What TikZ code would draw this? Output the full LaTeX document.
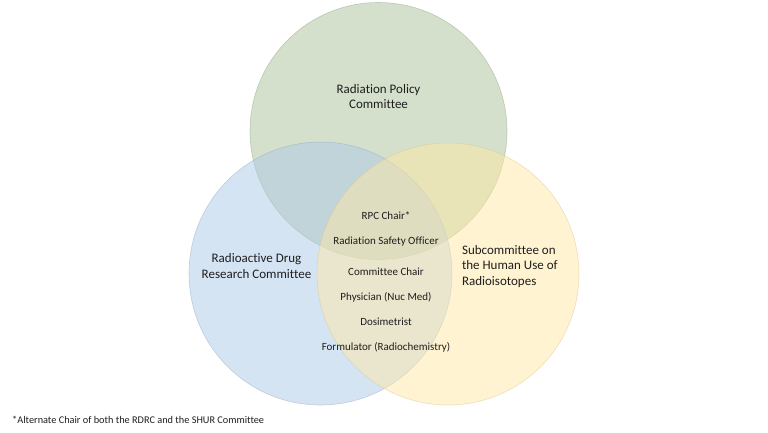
\documentclass[tikz,border=0pt]{standalone}
\usepackage{fontspec}
\setmainfont{Carlito}[Ligatures=NoCommon]
\definecolor{rpcgreen}{RGB}{170,194,152}
\definecolor{rdrcblue}{RGB}{172,201,232}
\definecolor{shuryellow}{RGB}{255,231,166}
\definecolor{txtgrey}{RGB}{30,30,30}
\begin{document}
\begin{tikzpicture}[x=1pt, y=-1pt, font=\fontsize{13}{15.5}\selectfont, text=txtgrey, line join=round, line cap=round]
	\tikzset{venn/.style={fill opacity=0.5, draw opacity=0.5, line width=0.6pt},
		member/.style={font=\fontsize{11}{12}\selectfont}}
	\useasboundingbox (0,0) rectangle (768,432);
	% the three committees
	\filldraw[venn, fill=rpcgreen, draw=rpcgreen!85!black] (378.5,131) circle (128.5pt);
	\filldraw[venn, fill=rdrcblue, draw=rdrcblue!85!black] (320.5,273.5) circle (131.5pt);
	\filldraw[venn, fill=shuryellow, draw=shuryellow!85!black] (448,274) circle (131pt);
	\node[align=center] (rpc) at (378.5,96.5) {Radiation Policy\\Committee};
	\node[align=center] (rdrc) at (256.5,266) {Radioactive Drug\\Research Committee};
	\node[align=left, anchor=west] (shur) at (458.5,266.5) {Subcommittee on\\the Human Use of\\Radioisotopes};
	% shared members
	\foreach \y/\nm/\txt in {216/chair/RPC Chair*, 242/rso/Radiation Safety Officer, 272/cchair/Committee Chair,
		297/phys/Physician (Nuc Med), 322/dosi/Dosimetrist, 347/form/Formulator (Radiochemistry)}
		\node[member] (\nm) at (386,\y) {\txt};
	\node[anchor=west, font=\fontsize{10.3}{12}\selectfont] (note) at (8.7,420) {*Alternate Chair of both the RDRC and the SHUR Committee};
\end{tikzpicture}
\end{document}
